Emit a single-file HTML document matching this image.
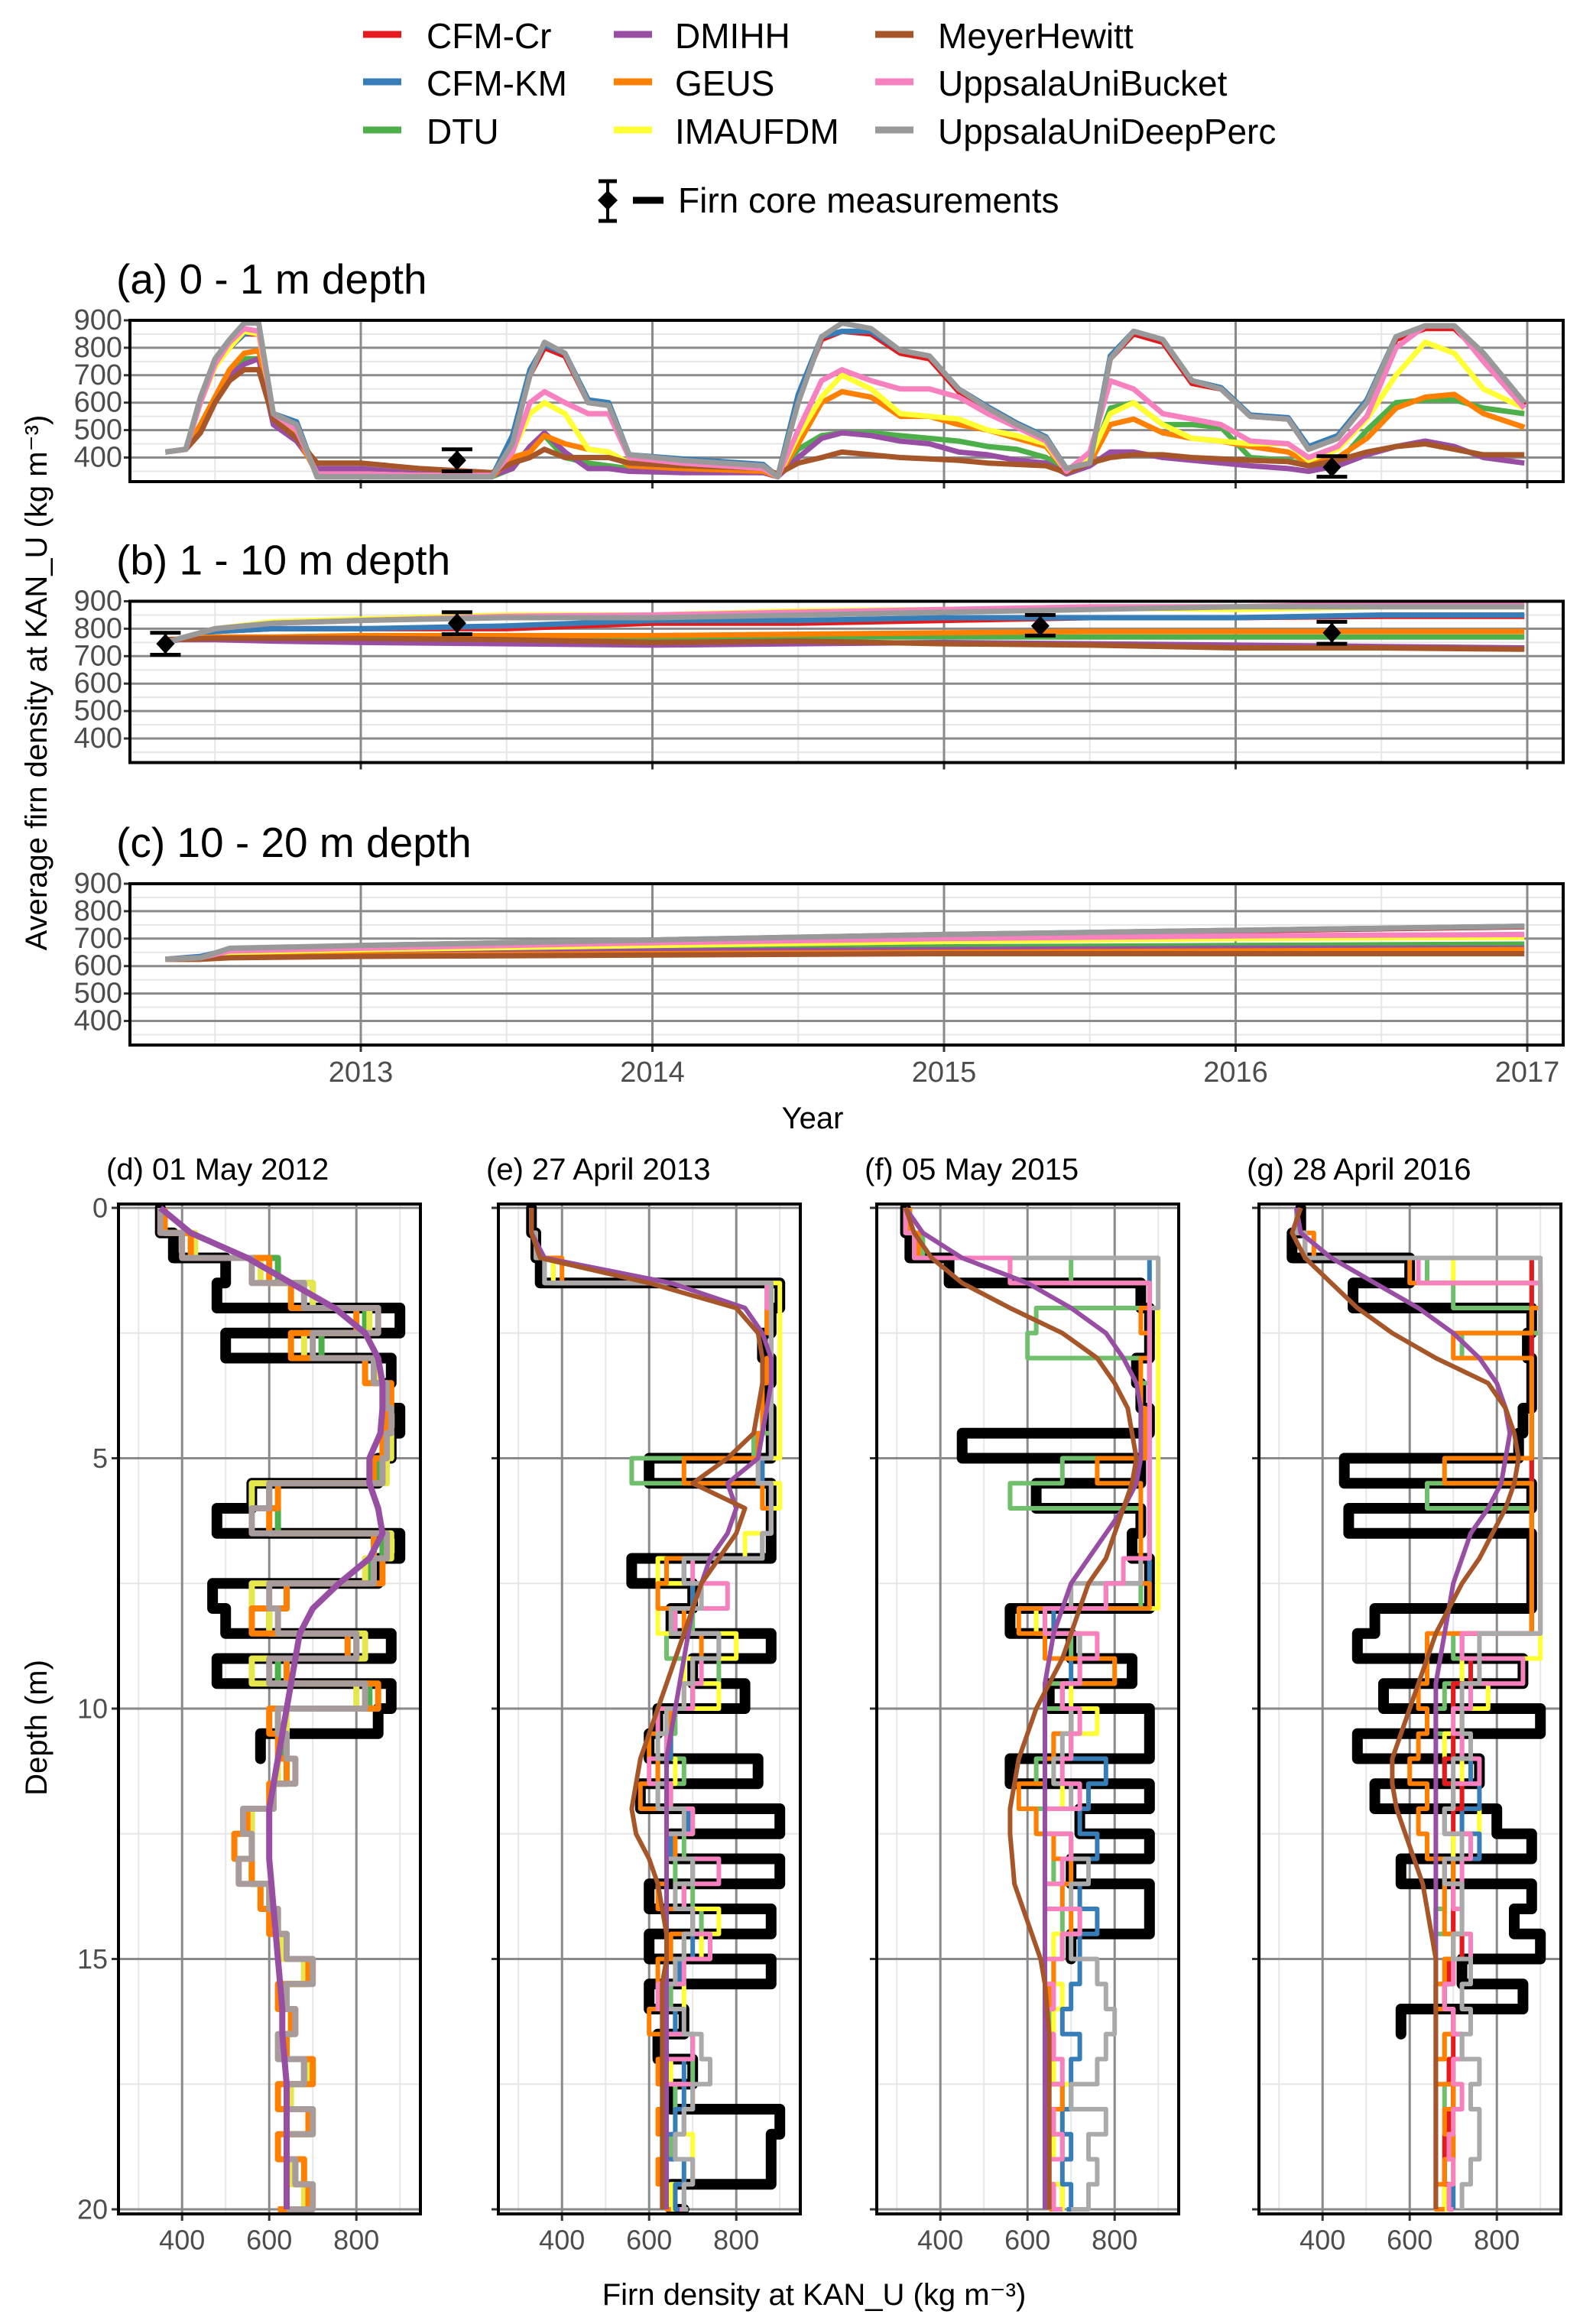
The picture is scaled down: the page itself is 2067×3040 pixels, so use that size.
<!DOCTYPE html>
<html><head><meta charset="utf-8"><style>
html,body{margin:0;padding:0;background:#fff;}
svg{display:block;font-family:"Liberation Sans",sans-serif;}
</style></head><body>
<svg id="fig" width="2067" height="3040" viewBox="0 0 2067 3040" xmlns="http://www.w3.org/2000/svg"></svg>
<script>
// ---------- DATA ----------
const seriesNames = ["CFM-Cr","CFM-KM","DTU","DMIHH","GEUS","IMAUFDM","MeyerHewitt","UppsalaUniBucket","UppsalaUniDeepPerc"];
const seriesColors = ["#E41A1C","#377EB8","#4DAF4A","#984EA3","#FF7F00","#FFFF33","#A65628","#F781BF","#999999"];
// Panel (a) 0-1 m
const timeA = [2012.33,2012.40,2012.45,2012.50,2012.55,2012.60,2012.65,2012.70,2012.78,2012.85,2013.0,2013.2,2013.45,2013.52,2013.58,2013.63,2013.70,2013.78,2013.85,2013.92,2014.1,2014.38,2014.43,2014.50,2014.58,2014.65,2014.75,2014.85,2014.95,2015.05,2015.15,2015.25,2015.35,2015.42,2015.50,2015.57,2015.65,2015.75,2015.85,2015.95,2016.05,2016.18,2016.25,2016.35,2016.45,2016.55,2016.65,2016.75,2016.85,2016.99];
const aCFMCr = [420,430,610,740,800,850,850,560,520,330,330,330,330,460,700,800,770,600,590,410,390,370,330,620,830,860,850,780,760,640,580,520,470,360,380,760,850,820,670,650,550,540,430,470,600,830,870,870,770,590];
const aCFMKM = [420,430,610,740,800,850,860,560,530,330,330,330,330,480,720,810,780,610,600,410,395,375,330,630,840,860,860,790,770,650,585,525,475,360,380,770,860,830,680,655,555,545,440,480,610,840,880,880,780,600];
const aDTU = [420,430,500,620,700,760,760,560,500,360,360,340,330,360,440,480,400,380,370,360,350,345,330,430,480,490,490,480,470,460,440,430,400,350,380,580,600,520,520,510,400,390,370,380,500,600,610,610,580,560];
const aDMIHH = [420,430,500,620,700,740,760,520,460,360,360,340,335,360,440,490,420,360,360,350,345,345,330,400,470,490,480,460,450,420,410,390,380,340,370,420,420,400,390,380,370,360,350,370,410,440,460,440,400,380];
const aGEUS = [420,430,520,620,720,780,790,560,480,340,340,335,330,400,420,480,450,430,420,370,360,350,330,450,600,640,620,550,550,520,500,470,440,350,380,520,540,490,470,460,440,420,380,400,470,580,620,630,560,510];
const aIMAU = [420,430,600,730,800,860,850,560,500,340,340,335,335,420,560,600,560,430,420,380,370,360,330,480,620,700,650,560,550,540,500,480,450,350,400,560,600,520,470,460,450,450,390,430,540,700,820,780,650,580];
const aMeyer = [420,430,490,600,680,720,720,540,470,380,380,360,345,380,400,430,400,400,400,380,370,360,340,380,400,420,410,400,395,390,380,375,370,345,380,400,410,410,400,395,390,385,370,390,420,440,450,430,410,410];
const aBucket = [420,430,600,740,820,870,860,560,500,340,340,335,335,420,600,640,600,560,560,400,380,360,330,500,680,720,680,650,650,620,560,510,460,350,420,680,650,560,540,520,460,450,400,440,550,800,880,880,750,580];
const aDeep = [420,430,620,760,830,890,890,560,520,330,330,330,330,450,700,820,780,600,590,410,390,370,330,600,840,890,870,790,770,650,580,520,470,360,380,760,860,830,680,650,550,540,430,470,600,840,880,880,780,600];
const panelA = [aCFMCr,aCFMKM,aDTU,aDMIHH,aGEUS,aIMAU,aMeyer,aBucket,aDeep];
const obsTimeA = [2013.33,2016.33];
const obsValA = [390,365];
const obsLoA = [350,330];
const obsHiA = [430,405];
// Panel (b) 1-10 m
const timeB = [2012.33,2012.5,2012.7,2013,2013.5,2014,2014.5,2015,2015.5,2016,2016.5,2016.99];
const bCFMCr = [750,790,800,800,800,820,820,830,840,840,845,845];
const bCFMKM = [750,790,800,800,810,830,830,840,840,840,850,850];
const bDTU = [760,765,765,765,765,765,770,770,770,770,770,770];
const bDMIHH = [760,760,755,750,745,740,745,750,745,740,735,730];
const bGEUS = [760,770,770,775,775,775,780,785,790,790,790,790];
const bIMAU = [750,800,825,835,850,850,865,870,875,870,880,880];
const bMeyer = [760,765,765,765,760,750,755,745,740,730,730,725];
const bBucket = [750,800,820,830,845,850,860,870,880,880,890,890];
const bDeep = [750,800,820,830,840,840,850,860,870,880,880,880];
const panelB = [bCFMCr,bCFMKM,bDTU,bDMIHH,bGEUS,bIMAU,bMeyer,bBucket,bDeep];
const obsTimeB = [2012.33,2013.33,2015.33,2016.33];
const obsValB = [745,820,810,785];
const obsLoB = [705,780,775,745];
const obsHiB = [785,860,850,825];
// Panel (c) 10-20 m
const timeC = [2012.33,2012.45,2012.55,2013,2014,2015,2016,2016.99];
const cCFMCr = [625,633,658,673,693,713,728,743];
const cCFMKM = [625,635,660,675,695,715,730,745];
const cDTU = [625,628,645,650,660,670,675,680];
const cDMIHH = [625,625,640,645,655,660,665,665];
const cGEUS = [625,625,635,640,645,650,655,660];
const cIMAU = [625,628,650,660,675,690,700,705];
const cMeyer = [625,625,630,635,640,645,645,645];
const cBucket = [625,630,655,665,685,700,710,715];
const cDeep = [625,630,665,675,695,715,730,745];
const panelC = [cCFMCr,cCFMKM,cDTU,cDMIHH,cGEUS,cIMAU,cMeyer,cBucket,cDeep];
const yTicksTop = [400,500,600,700,800,900];
const xTickYears = [2013,2014,2015,2016,2017];
// Profiles
const depthGrid = [0,0.5,1,1.5,2,2.5,3,3.5,4,4.5,5,5.5,6,6.5,7,7.5,8,8.5,9,9.5,10,10.5,11,11.5,12,12.5,13,13.5,14,14.5,15,15.5,16,16.5,17,17.5,18,18.5,19,19.5,20];
const dCore = [350,380,500,480,900,500,880,870,900,880,850,560,480,900,850,470,500,880,480,880,850,580];
const dGrey = [350,400,560,680,850,700,840,870,880,870,860,600,560,870,840,600,620,800,600,820,620,640,660,610,540,560,530,600,620,640,700,640,660,620,680,640,700,640,660,700,640];
const dOrange = [360,420,600,650,800,650,820,880,870,860,840,620,600,840,860,640,560,780,640,850,600,620,640,600,550,520,560,580,600,640,690,620,650,640,700,620,690,620,680,690,620];
const dYellow = [360,430,580,700,830,680,850,860,870,880,870,560,600,880,820,560,600,820,560,800,640,640,620,610,560,560,560,600,620,630,680,640,660,630,690,650,700,640,650,680,640];
const dGreen = [360,420,620,700,820,720,840,860,880,870,850,600,620,860,830,640,600,800,620,830,620,630,640,610,560,560,560,600,620,640,680,640,650,640,680,640,690,640,660,690,640];
const dPurple = [350,420,550,650,750,820,850,860,860,855,830,830,850,860,830,760,700,670,660,650,640,630,620,610,600,600,600,605,610,615,620,625,630,630,635,640,640,640,640,640,640];
const eCore = [330,340,350,900,880,860,880,870,880,880,600,880,880,880,560,700,650,880,700,820,620,600,850,580,900,650,900,600,880,600,880,600,680,620,700,650,900,880,880,650,680];
const eBrown = [330,330,350,600,800,850,860,860,850,840,780,700,820,800,760,720,700,680,660,640,620,600,580,570,560,570,600,620,630,640,640,630,630,630,630,630,630,630,630,630,630];
const ePurple = [330,330,360,650,820,860,880,880,870,860,850,780,800,780,740,720,700,690,680,670,660,650,640,640,640,640,640,640,640,640,640,640,640,640,640,640,640,640,640,640,640];
const eYellow = [330,340,380,900,900,900,900,900,900,900,850,900,880,820,620,700,620,800,680,760,650,620,660,640,700,650,700,680,760,720,660,680,640,700,650,680,660,700,680,650,680];
const eOrange = [330,340,400,880,870,880,870,860,860,850,680,860,880,860,640,620,680,720,700,680,650,600,620,580,640,660,640,620,700,650,620,640,600,640,620,640,620,640,620,640,650];
const eGreen = [330,340,380,880,880,880,880,880,880,840,560,860,880,860,680,620,700,640,760,700,660,640,680,620,700,680,660,700,720,680,640,650,660,640,700,660,680,650,640,660,680];
const ePink = [330,340,360,870,880,880,880,880,880,880,850,880,880,860,700,780,660,760,720,700,620,640,600,650,700,640,760,680,700,740,680,620,640,700,640,700,680,660,700,680,670];
const eGrey = [330,340,360,880,880,880,880,880,880,880,850,880,880,860,680,720,650,760,700,680,640,620,640,620,680,640,700,660,700,680,660,640,680,720,740,700,680,660,700,680,690];
const eBlue = [330,340,360,880,880,880,880,880,880,880,860,880,880,860,680,700,660,760,700,700,640,650,620,640,690,650,700,680,700,700,670,640,660,700,680,680,660,640,680,660,680];
const fCore = [320,330,420,860,880,880,850,860,880,450,860,620,860,840,880,880,560,700,840,650,880,880,560,880,720,880,700,880,880,700];
const fBrown = [320,340,380,450,560,680,760,800,830,840,850,840,820,800,780,740,720,700,680,650,620,600,580,570,560,560,565,570,590,610,630,640,645,650,650,650,650,650,650,650,650];
const fPurple = [320,360,450,600,700,780,820,850,860,860,860,850,820,780,740,700,680,660,650,640,640,640,640,640,640,640,640,640,640,640,640,640,640,640,640,640,640,640,640,640,640];
const fYellow = [320,350,900,900,900,900,900,900,900,900,900,900,900,900,900,900,620,760,800,700,760,700,660,680,640,700,680,640,720,660,640,680,660,650,660,700,680,660,650,680,670];
const fOrange = [330,350,560,880,860,880,860,860,870,870,760,860,860,860,860,880,580,640,800,680,700,660,640,580,620,660,700,680,700,680,660,650,640,660,650,680,660,650,640,660,650];
const fGreen = [330,360,700,880,620,600,880,860,860,880,680,560,860,860,860,860,620,700,720,640,700,660,620,640,620,700,660,640,680,680,660,640,650,640,660,680,660,680,640,680,660];
const fPink = [320,340,560,880,880,880,880,880,880,880,880,880,880,880,820,780,640,760,720,680,720,700,680,720,640,700,680,640,720,680,640,660,640,660,680,640,660,680,650,660,680];
const fGrey = [320,340,900,900,880,880,880,880,880,880,880,880,880,880,860,700,640,720,720,680,700,680,660,700,640,700,740,700,720,700,760,780,800,780,760,700,780,740,760,740,700];
const fBlue = [320,340,880,880,880,880,880,880,880,880,880,880,880,880,880,780,660,720,700,680,700,700,780,740,720,760,740,720,760,720,720,700,680,720,700,700,680,700,680,700,690];
const gCore = [350,330,600,470,880,870,880,880,860,850,450,880,460,880,880,880,520,480,860,540,900,480,760,520,800,880,580,880,840,900,720,860,580];
const gBrown = [350,330,360,420,480,560,660,780,820,840,850,840,820,790,760,720,690,660,640,620,600,580,560,560,570,590,610,630,640,650,660,660,660,660,660,660,660,660,660,660,660];
const gPurple = [340,350,420,520,620,700,760,800,820,830,820,810,780,740,720,700,690,680,670,660,660,660,660,660,660,660,660,660,660,660,660,660,660,660,660,660,660,660,660,660,660];
const gYellow = [340,360,700,900,900,900,900,900,900,900,900,900,900,900,900,900,900,900,720,780,700,680,720,700,760,700,680,720,700,740,700,680,700,680,700,720,700,680,700,680,690];
const gOrange = [340,380,600,900,880,700,880,880,880,880,680,880,880,880,880,880,880,640,640,620,640,620,600,640,620,640,700,680,680,700,680,660,700,680,660,700,680,700,680,660,680];
const gGreen = [340,360,640,700,900,720,880,880,880,880,880,640,880,880,880,880,880,700,720,680,660,700,680,720,680,700,700,680,660,700,680,660,700,680,700,680,700,680,700,680,690];
const gPink = [340,360,620,900,900,900,900,900,900,900,900,900,900,900,900,900,900,720,860,740,700,720,760,700,680,740,720,700,720,740,700,680,700,720,700,720,700,690,700,690,700];
const gGrey = [340,360,900,900,900,900,900,900,900,900,900,900,900,900,900,900,900,760,760,720,720,740,700,700,680,720,680,720,720,700,740,720,740,720,760,740,760,760,740,720,720];
const gBlue = [340,360,880,880,880,880,880,880,880,880,880,880,880,880,880,880,880,720,740,700,720,720,740,760,720,760,700,720,700,720,700,680,700,720,700,700,690,700,680,700,700];
const gRed = [340,360,880,880,880,880,880,880,880,880,880,880,880,880,880,880,880,720,740,700,720,700,680,720,700,740,680,700,700,720,690,680,700,700,690,700,690,680,680,690,690];
const profileTitles = ["(d) 01 May 2012","(e) 27 April 2013","(f) 05 May 2015","(g) 28 April 2016"];
const xTicksBottom = [400,600,800];
const yTicksDepth = [0,5,10,15,20];

// ---------- DRAW ----------
const NS="http://www.w3.org/2000/svg";
const svg=document.getElementById('fig');
function mk(tag,attrs,parent){const e=document.createElementNS(NS,tag);for(const k in attrs)e.setAttribute(k,attrs[k]);(parent||svg).appendChild(e);return e;}
function txt(s,x,y,size,anchor,fill,parent){const t=mk('text',{x:x,y:y,'font-size':size,'text-anchor':anchor||'start',fill:fill||'#000','dominant-baseline':'central'},parent);t.textContent=s;return t;}

// Legend
const legCols=[[475,558],[803,883],[1145,1227]];
const legRows=[45,107,170];
seriesNames.forEach((n,i)=>{
  const c=Math.floor(i/3), r=i%3;
  const g=mk('g',{});
  
  
  mk('line',{x1:legCols[c][0],x2:legCols[c][0]+50,y1:legRows[r],y2:legRows[r],stroke:seriesColors[i],'stroke-width':9},g);
  txt(n,legCols[c][1],legRows[r]+2,46,'start','#000',g);
});
{
  const g=mk('g',{});
  
  
  mk('line',{x1:795,x2:795,y1:237,y2:289,stroke:'#000','stroke-width':4},g);
  mk('line',{x1:783,x2:807,y1:237,y2:237,stroke:'#000','stroke-width':5},g);
  mk('line',{x1:783,x2:807,y1:289,y2:289,stroke:'#000','stroke-width':5},g);
  mk('path',{d:'M795 249 L808 262 L795 275 L782 262 Z',fill:'#000'},g);
  mk('line',{x1:828,x2:868,y1:262,y2:262,stroke:'#000','stroke-width':9},g);
  txt('Firn core measurements',887,262,46,'start','#000',g);
}

// Time series panels
const X0=170,X1=2045;
const xY=t=>472+(t-2013)*381.5;
const panels=[{top:419,title:"(a) 0 - 1 m depth",data:panelA,time:timeA,obs:[obsTimeA,obsValA,obsLoA,obsHiA]},
              {top:786.5,title:"(b) 1 - 10 m depth",data:panelB,time:timeB,obs:[obsTimeB,obsValB,obsLoB,obsHiB]},
              {top:1156,title:"(c) 10 - 20 m depth",data:panelC,time:timeC,obs:null}];
const H=211;
panels.forEach((p,pi)=>{
  const yv=v=>p.top+(900-v)*0.359;
  const g=mk('g',{});
  
  
  const clipId='clipT'+pi;
  const cp=mk('clipPath',{id:clipId},g);mk('rect',{x:X0,y:p.top,width:X1-X0,height:H},cp);
  [350,450,550,650,750,850].forEach(v=>mk('line',{x1:X0,x2:X1,y1:yv(v),y2:yv(v),stroke:'#e6e6e6','stroke-width':2},g));
  [2012.5,2013.5,2014.5,2015.5,2016.5].forEach(t=>mk('line',{x1:xY(t),x2:xY(t),y1:p.top,y2:p.top+H,stroke:'#e6e6e6','stroke-width':2},g));
  yTicksTop.forEach(v=>{mk('line',{x1:X0,x2:X1,y1:yv(v),y2:yv(v),stroke:'#8a8a8a','stroke-width':3},g);
    mk('line',{x1:X0-8,x2:X0,y1:yv(v),y2:yv(v),stroke:'#333','stroke-width':3},g);
    const t=txt(String(v),X0-10,yv(v),38,'end','#4d4d4d',g);
    });
  xTickYears.forEach(yr=>{mk('line',{x1:xY(yr),x2:xY(yr),y1:p.top,y2:p.top+H,stroke:'#8a8a8a','stroke-width':3},g);
    mk('line',{x1:xY(yr),x2:xY(yr),y1:p.top+H,y2:p.top+H+9,stroke:'#333','stroke-width':3},g);});
  const lg=mk('g',{'clip-path':'url(#'+clipId+')'},g);
  p.data.forEach((arr,si)=>{
    const d=arr.map((v,i)=>(i?'L':'M')+xY(p.time[i]).toFixed(1)+' '+yv(v).toFixed(1)).join(' ');
    const pl=mk('path',{d:d,fill:'none',stroke:seriesColors[si],'stroke-width':7,'stroke-linejoin':'round'},lg);
    
    
  });
  if(p.obs){const [ot,ov,lo,hi]=p.obs;
    ot.forEach((t,i)=>{const x=xY(t);
      const eb=mk('g',{},g);
      
      
      mk('line',{x1:x,x2:x,y1:yv(hi[i]),y2:yv(lo[i]),stroke:'#000','stroke-width':4},eb);
      mk('line',{x1:x-20,x2:x+20,y1:yv(hi[i]),y2:yv(hi[i]),stroke:'#000','stroke-width':5},eb);
      mk('line',{x1:x-20,x2:x+20,y1:yv(lo[i]),y2:yv(lo[i]),stroke:'#000','stroke-width':5},eb);
      mk('path',{d:`M${x} ${yv(ov[i])-13} L${x+12} ${yv(ov[i])} L${x} ${yv(ov[i])+13} L${x-12} ${yv(ov[i])} Z`,fill:'#000'},eb);
    });}
  mk('rect',{x:X0,y:p.top,width:X1-X0,height:H,fill:'none',stroke:'#000','stroke-width':4},g);
  const tt=txt(p.title,152,p.top-54,55,'start','#000',g);
  
});
xTickYears.forEach(yr=>{const t=txt(String(yr),xY(yr),1403,38,'middle','#4d4d4d');
  
  });
{const t=txt('Year',1063,1463,40,'middle','#000');
 
 }
{const t=mk('text',{x:0,y:0,'font-size':40,'text-anchor':'middle','dominant-baseline':'central',transform:'translate(48,893) rotate(-90)'});
 t.textContent='Average firn density at KAN_U (kg m\u207B\u00B3)';
 
 }

// Profile panels
const lefts=[155,652,1147,1647];
const PW=395, PT=1575, PB=2896;
const yd=d=>1580+d*65.5;
const profileSets=[
  [[dGreen,'#4DAF4A'],[dYellow,'#E6E64D'],[dOrange,'#FF7F00'],[dGrey,'#A89B9B'],[dPurple,'#984EA3']],
  [[eGreen,'#6FBF6C'],[eYellow,'#FFFF33'],[eBlue,'#377EB8'],[eOrange,'#FF7F00'],[ePink,'#F781BF'],[eGrey,'#AAAAAA'],[ePurple,'#984EA3'],[eBrown,'#A65628']],
  [[fGreen,'#6FBF6C'],[fYellow,'#FFFF33'],[fBlue,'#377EB8'],[fOrange,'#FF7F00'],[fGrey,'#AAAAAA'],[fPink,'#F781BF'],[fPurple,'#984EA3'],[fBrown,'#A65628']],
  [[gGreen,'#6FBF6C'],[gYellow,'#FFFF33'],[gBlue,'#377EB8'],[gRed,'#E41A1C'],[gOrange,'#FF7F00'],[gPink,'#F781BF'],[gGrey,'#AAAAAA'],[gPurple,'#984EA3'],[gBrown,'#A65628']]
];
const cores=[dCore,eCore,fCore,gCore];
function stepPath(vals,xv){let d='';for(let i=0;i<vals.length;i++){const x=xv(vals[i]).toFixed(1);
  const y0=yd(depthGrid[i]).toFixed(1), y1=yd(depthGrid[Math.min(i+1,depthGrid.length-1)]).toFixed(1);
  d+=(i?'L':'M')+x+' '+y0+' L'+x+' '+y1+' ';}return d;}
lefts.forEach((L,pi)=>{
  const xv=v=>L+(v-254)*0.57;
  const g=mk('g',{});
  
  
  const clipId='clipP'+pi;
  const cp=mk('clipPath',{id:clipId},g);mk('rect',{x:L,y:PT,width:PW,height:PB-PT},cp);
  [300,500,700,900].forEach(v=>mk('line',{x1:xv(v),x2:xv(v),y1:PT,y2:PB,stroke:'#e6e6e6','stroke-width':2},g));
  [2.5,7.5,12.5,17.5].forEach(d=>mk('line',{x1:L,x2:L+PW,y1:yd(d),y2:yd(d),stroke:'#e6e6e6','stroke-width':2},g));
  xTicksBottom.forEach(v=>{mk('line',{x1:xv(v),x2:xv(v),y1:PT,y2:PB,stroke:'#8a8a8a','stroke-width':3},g);
    mk('line',{x1:xv(v),x2:xv(v),y1:PB,y2:PB+9,stroke:'#333','stroke-width':3},g);
    const t=txt(String(v),xv(v),2930,36,'middle','#4d4d4d',g);
    });
  yTicksDepth.forEach(d=>{mk('line',{x1:L,x2:L+PW,y1:yd(d),y2:yd(d),stroke:'#8a8a8a','stroke-width':3},g);
    mk('line',{x1:L-9,x2:L,y1:yd(d),y2:yd(d),stroke:'#333','stroke-width':3},g);
    if(pi===0){const t=txt(String(d),L-14,yd(d),36,'end','#4d4d4d',g);
      }});
  const lg=mk('g',{'clip-path':'url(#'+clipId+')'},g);
  const core=mk('path',{d:stepPath(cores[pi],xv),fill:'none',stroke:'#000','stroke-width':14,'stroke-linejoin':'round','stroke-linecap':'round'},lg);
  
  
  profileSets[pi].forEach(([vals,col])=>{
    const smooth=(col==='#984EA3'||col==='#A65628');
    let d;
    if(smooth){d=vals.map((v,i)=>(i?'L':'M')+xv(v).toFixed(1)+' '+yd(depthGrid[i]).toFixed(1)).join(' ');}
    else d=stepPath(vals,xv);
    const pth=mk('path',{d:d,fill:'none',stroke:col,'stroke-width':pi===0?8:6,'stroke-linejoin':'round'},lg);
    
    
  });
  mk('rect',{x:L,y:PT,width:PW,height:PB-PT,fill:'none',stroke:'#000','stroke-width':4},g);
  const tt=txt(profileTitles[pi],L-16,1530,40,'start','#000',g);
  
});
{const t=txt('Firn density at KAN_U (kg m\u207B\u00B3)',1065,3002,40,'middle','#000');
 
 }
{const t=mk('text',{x:0,y:0,'font-size':40,'text-anchor':'middle','dominant-baseline':'central',transform:'translate(48,2260) rotate(-90)'});
 t.textContent='Depth (m)';
 
 }
</script>
</body></html>
